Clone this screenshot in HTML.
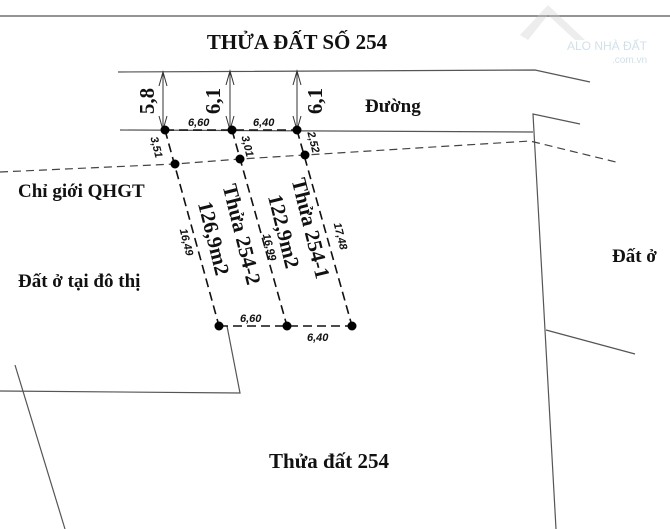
<!DOCTYPE html>
<html><head><meta charset="utf-8"><style>
body{margin:0;background:#fff}
svg{display:block}
.s{font-family:"Liberation Serif",serif;font-weight:bold;fill:#111}
.i{font-family:"Liberation Sans",sans-serif;font-style:italic;font-weight:bold;font-size:11px;fill:#111}
</style></head><body>
<svg width="670" height="529" viewBox="0 0 670 529">
<g stroke="#555" stroke-width="1.2" fill="none">
<line x1="0" y1="16" x2="670" y2="16"/>
<polyline points="118,72 535,70 590,82"/>
<line x1="120" y1="130" x2="533" y2="132"/>
<polyline points="580,124 533,114 545,330 556,529"/>
<line x1="546" y1="330" x2="635" y2="354"/>
<polyline points="0,391 240,393 227,326"/>
<line x1="15" y1="365" x2="65" y2="529"/>
</g>
<g stroke="#444" stroke-width="1.2" fill="none" stroke-dasharray="8,5">
<polyline points="0,172 175,164 240,159 305,155 530,141 620,163"/>
</g>
<g stroke="#111" stroke-width="1.6" fill="none" stroke-dasharray="9,5">
<line x1="165" y1="130" x2="297" y2="130"/>
<line x1="165" y1="130" x2="219" y2="326"/>
<line x1="232" y1="130" x2="287" y2="326"/>
<line x1="297" y1="130" x2="352" y2="326"/>
<line x1="219" y1="326" x2="352" y2="326"/>
</g>
<g stroke="#333" stroke-width="1" fill="none">
<line x1="163" y1="72" x2="163" y2="130"/>
<line x1="230" y1="71" x2="230" y2="130"/>
<line x1="297" y1="71" x2="297" y2="130"/>
<polyline points="159,86 163,72 167,86"/><polyline points="159,116 163,130 167,116"/>
<polyline points="226,85 230,71 234,85"/><polyline points="226,116 230,130 234,116"/>
<polyline points="293,85 297,71 301,85"/><polyline points="293,116 297,130 301,116"/>
</g>
<g fill="#000">
<circle cx="165" cy="130" r="4.5"/><circle cx="232" cy="130" r="4.5"/><circle cx="297" cy="130" r="4.5"/>
<circle cx="175" cy="164" r="4.5"/><circle cx="240" cy="159" r="4.5"/><circle cx="305" cy="155" r="4.5"/>
<circle cx="219" cy="326" r="4.5"/><circle cx="287" cy="326" r="4.5"/><circle cx="352" cy="326" r="4.5"/>
</g>
<text class="s" x="297" y="49" font-size="21" text-anchor="middle">THỬA ĐẤT SỐ 254</text>
<text class="s" x="365" y="112" font-size="19">Đường</text>
<text class="s" x="18" y="197" font-size="19">Chỉ giới QHGT</text>
<text class="s" x="18" y="287" font-size="19">Đất ở tại đô thị</text>
<text class="s" x="612" y="262" font-size="19">Đất ở</text>
<text class="s" x="329" y="468" font-size="21" text-anchor="middle">Thửa đất 254</text>
<text class="s" font-size="21" transform="translate(154,101) rotate(-90)" text-anchor="middle">5,8</text>
<text class="s" font-size="21" transform="translate(220,101) rotate(-90)" text-anchor="middle">6,1</text>
<text class="s" font-size="21" transform="translate(322,101) rotate(-90)" text-anchor="middle">6,1</text>
<text class="s" font-size="21" transform="translate(235,236) rotate(76)" text-anchor="middle">Thửa 254-2</text>
<text class="s" font-size="21" transform="translate(207,240) rotate(76)" text-anchor="middle">126,9m2</text>
<text class="s" font-size="21" transform="translate(304,230) rotate(76)" text-anchor="middle">Thửa 254-1</text>
<text class="s" font-size="21" transform="translate(277,233) rotate(76)" text-anchor="middle">122,9m2</text>
<text class="i" x="188" y="126">6,60</text>
<text class="i" x="253" y="126">6,40</text>
<text class="i" x="240" y="322">6,60</text>
<text class="i" x="307" y="341">6,40</text>
<text class="i" transform="translate(153,148) rotate(76)" text-anchor="middle">3,51</text>
<text class="i" transform="translate(244,147) rotate(76)" text-anchor="middle">3,01</text>
<text class="i" transform="translate(310,143) rotate(76)" text-anchor="middle">2,52</text>
<text class="i" transform="translate(183,243) rotate(76)" text-anchor="middle">16,49</text>
<text class="i" transform="translate(266,248) rotate(76)" text-anchor="middle">16,99</text>
<text class="i" transform="translate(337,237) rotate(76)" text-anchor="middle">17,48</text>
<g opacity="0.35">
<polygon points="520,35 548,5 585,40 575,40 548,15 528,40" fill="#ccc"/>
<text x="567" y="50" font-family="Liberation Sans,sans-serif" font-size="12" fill="#7aa9c9">ALO NHÀ ĐẤT</text>
<text x="612" y="63" font-family="Liberation Sans,sans-serif" font-size="10" fill="#7aa9c9">.com.vn</text>
</g>
</svg>
</body></html>
